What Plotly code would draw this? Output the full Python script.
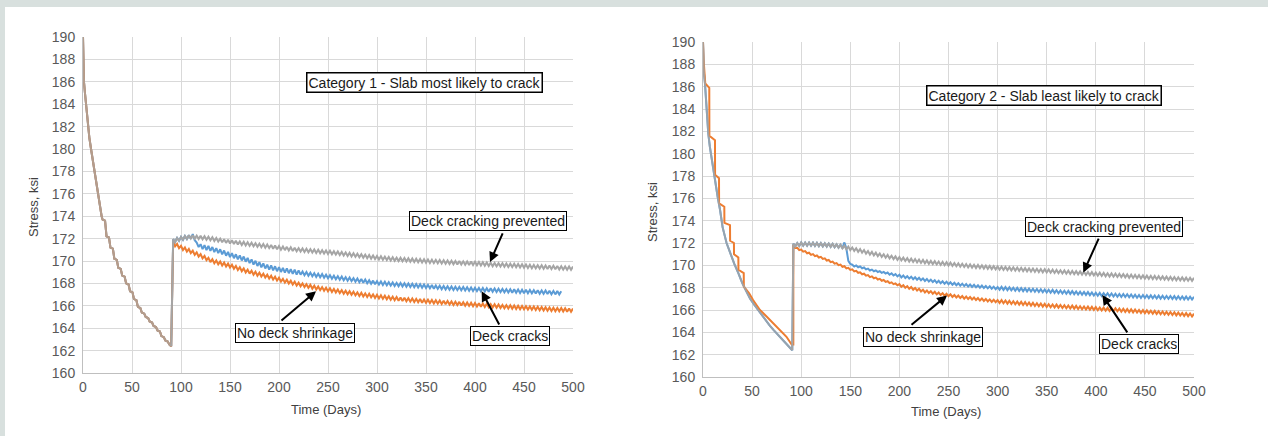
import plotly.graph_objects as go

# ---------------- DATA ----------------
# Category 1 - early phase (all three series overlap), days / ksi
C1_EARLY_T = [0, 0.3, 1, 2, 3.1, 4, 5.1, 6.5, 8.2, 10, 11.6, 13.5, 15, 17, 19,
              20, 22.5, 24, 26.5, 28, 30.5, 32, 34.5, 36, 38.5, 40, 42.5, 44, 46.5,
              48, 50.5, 52, 54.5, 56, 58.5, 60, 62.5, 64, 66.5, 68, 70.5, 72, 74.5,
              76, 78.5, 80, 82.5, 84, 86.5, 88, 90]
C1_EARLY_S = [190, 188, 186, 185, 184, 183, 182, 181, 180, 179, 178, 177, 176, 175, 174,
              173.7, 173.6, 172.2, 172.1, 171.2, 171.1, 170.2, 170.1, 169.4, 169.3, 168.7, 168.6,
              168.0, 167.9, 167.3, 167.2, 166.6, 166.5, 165.9, 165.8, 165.4, 165.3, 165.0, 164.9,
              164.6, 164.5, 164.2, 164.1, 163.8, 163.7, 163.3, 163.2, 162.9, 162.8, 162.55, 162.4]

DAYS = list(range(92, 501, 2))
C1_BLUE_DAYS = list(range(92, 489, 2))

C1_GRAY = [
    171.95, 171.70, 172.05, 171.80, 172.15, 171.89, 172.23, 171.96, 172.30, 172.00,
    172.30, 171.99, 172.27, 171.96, 172.25, 171.93, 172.21, 171.89, 172.17, 171.85,
    172.12, 171.79, 172.06, 171.73, 172.00, 171.67, 171.95, 171.62, 171.90, 171.57,
    171.85, 171.52, 171.80, 171.47, 171.75, 171.43, 171.71, 171.39, 171.67, 171.35,
    171.63, 171.31, 171.59, 171.27, 171.55, 171.23, 171.51, 171.19, 171.47, 171.15,
    171.43, 171.10, 171.38, 171.05, 171.33, 171.01, 171.29, 170.97, 171.26, 170.94,
    171.22, 170.90, 171.19, 170.87, 171.15, 170.84, 171.12, 170.81, 171.09, 170.78,
    171.06, 170.75, 171.03, 170.72, 171.00, 170.69, 170.97, 170.66, 170.94, 170.63,
    170.91, 170.60, 170.88, 170.57, 170.85, 170.53, 170.81, 170.49, 170.77, 170.45,
    170.73, 170.41, 170.69, 170.37, 170.65, 170.33, 170.61, 170.29, 170.57, 170.25,
    170.53, 170.21, 170.49, 170.17, 170.45, 170.14, 170.42, 170.11, 170.39, 170.08,
    170.36, 170.05, 170.33, 170.02, 170.30, 169.99, 170.28, 169.97, 170.26, 169.95,
    170.24, 169.93, 170.22, 169.91, 170.20, 169.89, 170.18, 169.87, 170.16, 169.85,
    170.14, 169.83, 170.12, 169.81, 170.10, 169.79, 170.08, 169.77, 170.06, 169.75,
    170.04, 169.73, 170.02, 169.71, 170.00, 169.69, 169.99, 169.68, 169.97, 169.67,
    169.96, 169.65, 169.95, 169.64, 169.93, 169.62, 169.91, 169.60, 169.89, 169.58,
    169.87, 169.56, 169.85, 169.54, 169.83, 169.52, 169.81, 169.51, 169.80, 169.49,
    169.78, 169.47, 169.76, 169.46, 169.75, 169.44, 169.73, 169.42, 169.71, 169.40,
    169.69, 169.38, 169.67, 169.36, 169.65, 169.34, 169.63, 169.33, 169.62, 169.31,
    169.60, 169.29, 169.59, 169.28, 169.57, 169.26, 169.56, 169.25, 169.54, 169.23,
    169.52, 169.22, 169.51, 169.21, 169.50]

C1_ORANGE = [
    171.70, 171.31, 171.52, 171.14, 171.35, 170.98, 171.21, 170.84, 171.07, 170.70,
    170.92, 170.55, 170.77, 170.40, 170.62, 170.24, 170.45, 170.07, 170.28, 169.90,
    170.15, 169.80, 170.05, 169.70, 169.95, 169.60, 169.86, 169.51, 169.77, 169.42,
    169.67, 169.31, 169.56, 169.20, 169.45, 169.09, 169.34, 168.98, 169.23, 168.87,
    169.13, 168.78, 169.04, 168.69, 168.95, 168.61, 168.86, 168.52, 168.77, 168.43,
    168.68, 168.34, 168.59, 168.25, 168.50, 168.16, 168.41, 168.07, 168.33, 167.99,
    168.24, 167.90, 168.16, 167.81, 168.07, 167.74, 168.00, 167.67, 167.93, 167.60,
    167.87, 167.53, 167.80, 167.46, 167.73, 167.40, 167.67, 167.35, 167.62, 167.29,
    167.56, 167.23, 167.51, 167.18, 167.45, 167.13, 167.40, 167.08, 167.35, 167.03,
    167.30, 166.98, 167.25, 166.93, 167.20, 166.88, 167.16, 166.83, 167.11, 166.79,
    167.07, 166.75, 167.02, 166.70, 166.98, 166.66, 166.94, 166.62, 166.90, 166.58,
    166.86, 166.54, 166.82, 166.50, 166.78, 166.46, 166.75, 166.43, 166.72, 166.40,
    166.68, 166.37, 166.65, 166.34, 166.62, 166.31, 166.60, 166.28, 166.57, 166.26,
    166.55, 166.24, 166.52, 166.21, 166.50, 166.19, 166.47, 166.16, 166.45, 166.13,
    166.42, 166.11, 166.39, 166.08, 166.37, 166.06, 166.35, 166.03, 166.32, 166.01,
    166.30, 165.99, 166.27, 165.96, 166.25, 165.94, 166.23, 165.91, 166.20, 165.89,
    166.18, 165.87, 166.15, 165.84, 166.13, 165.82, 166.11, 165.80, 166.08, 165.77,
    166.06, 165.75, 166.04, 165.73, 166.02, 165.71, 166.00, 165.69, 165.98, 165.68,
    165.97, 165.66, 165.95, 165.64, 165.93, 165.62, 165.91, 165.60, 165.89, 165.58,
    165.87, 165.56, 165.85, 165.54, 165.83, 165.52, 165.81, 165.51, 165.80, 165.49,
    165.78, 165.47, 165.77, 165.46, 165.75]

C1_BLUE = [
    171.95, 171.70, 172.05, 171.80, 172.15, 171.89, 172.23, 171.96, 172.30, 172.00,
    172.40, 171.85, 171.65, 171.25, 171.50, 171.06, 171.42, 170.98, 171.34, 170.90,
    171.25, 170.80, 171.15, 170.70, 171.05, 170.59, 170.93, 170.47, 170.81, 170.35,
    170.70, 170.25, 170.60, 170.15, 170.50, 170.05, 170.40, 169.94, 170.27, 169.81,
    170.14, 169.68, 170.02, 169.56, 169.90, 169.44, 169.78, 169.33, 169.68, 169.24,
    169.60, 169.16, 169.53, 169.09, 169.45, 169.02, 169.39, 168.96, 169.34, 168.91,
    169.28, 168.85, 169.22, 168.79, 169.16, 168.78, 169.06, 168.73, 169.01, 168.68,
    168.96, 168.63, 168.91, 168.58, 168.86, 168.55, 168.83, 168.51, 168.78, 168.46,
    168.74, 168.42, 168.69, 168.37, 168.65, 168.33, 168.61, 168.28, 168.56, 168.24,
    168.52, 168.20, 168.47, 168.15, 168.43, 168.11, 168.39, 168.06, 168.34, 168.02,
    168.29, 167.97, 168.25, 167.92, 168.20, 167.89, 168.17, 167.86, 168.14, 167.83,
    168.11, 167.80, 168.08, 167.77, 168.05, 167.74, 168.03, 167.72, 168.01, 167.70,
    167.99, 167.68, 167.97, 167.66, 167.95, 167.64, 167.92, 167.61, 167.90, 167.59,
    167.87, 167.56, 167.85, 167.53, 167.82, 167.51, 167.79, 167.48, 167.77, 167.46,
    167.75, 167.44, 167.73, 167.42, 167.71, 167.40, 167.69, 167.38, 167.67, 167.36,
    167.65, 167.35, 167.64, 167.33, 167.62, 167.31, 167.60, 167.30, 167.59, 167.28,
    167.57, 167.26, 167.56, 167.25, 167.54, 167.23, 167.52, 167.22, 167.51, 167.20,
    167.49, 167.19, 167.48, 167.17, 167.47, 167.16, 167.45, 167.15, 167.44, 167.13,
    167.43, 167.12, 167.41, 167.11, 167.40, 167.09, 167.39, 167.08, 167.37, 167.07,
    167.36, 167.05, 167.35, 167.04, 167.33, 167.02, 167.32, 167.01, 167.30]

# Category 2 - early phase
C2_EARLY_T = [0, 0.5, 1, 2, 3, 4, 5.4, 7, 8.5, 10.5, 13, 15, 17.3, 20, 24, 28, 32, 36,
              40, 44, 48, 52, 56, 60, 64, 68, 72, 76, 80, 84, 88, 90.9]
C2_EARLY_S = [190, 188.3, 187.2, 186.3, 184.6, 183.2, 181.8, 180.6, 179.7, 178.8, 177.2,
              176.1, 175.0, 173.4, 172.0, 171.0, 170.1, 169.3, 168.4, 167.7, 167.0, 166.5,
              166.0, 165.5, 165.1, 164.6, 164.2, 163.8, 163.4, 163.1, 162.7, 162.4]
C2_ORANGE_EARLY_T = [0, 0.6, 2.3, 6.4, 6.5, 12.2, 12.3, 16.3, 16.4, 21.7, 21.8, 27.5, 27.6,
                     31.5, 31.6, 36, 36.1, 41.5, 41.6, 47, 51, 58, 65, 75, 85, 90.3, 92]
C2_ORANGE_EARLY_S = [190, 188.4, 186.3, 185.9, 181.6, 181.2, 178.1, 177.8, 175.55, 175.25,
                     173.8, 173.6, 172.2, 172.0, 171.0, 170.7, 169.6, 169.3, 168.1, 167.5,
                     166.9, 166.0, 165.4, 164.5, 163.6, 162.9, 162.9]

C2_GRAY = [
    171.94, 171.69, 171.99, 171.74, 172.04, 171.76, 172.04, 171.76, 172.04, 171.76,
    172.03, 171.74, 172.01, 171.72, 171.99, 171.70, 171.97, 171.68, 171.95, 171.66,
    171.92, 171.62, 171.88, 171.58, 171.84, 171.52, 171.76, 171.44, 171.68, 171.36,
    171.60, 171.29, 171.53, 171.21, 171.45, 171.13, 171.37, 171.05, 171.28, 170.96,
    171.20, 170.89, 171.13, 170.82, 171.06, 170.75, 170.99, 170.68, 170.93, 170.62,
    170.86, 170.55, 170.80, 170.49, 170.74, 170.44, 170.69, 170.39, 170.64, 170.34,
    170.60, 170.30, 170.56, 170.26, 170.52, 170.22, 170.48, 170.18, 170.44, 170.14,
    170.40, 170.11, 170.37, 170.08, 170.34, 170.04, 170.31, 170.01, 170.28, 169.98,
    170.25, 169.95, 170.21, 169.92, 170.18, 169.88, 170.14, 169.85, 170.11, 169.81,
    170.08, 169.79, 170.05, 169.76, 170.03, 169.74, 170.00, 169.71, 169.98, 169.69,
    169.95, 169.66, 169.93, 169.64, 169.90, 169.61, 169.88, 169.59, 169.86, 169.57,
    169.84, 169.55, 169.82, 169.53, 169.80, 169.51, 169.78, 169.49, 169.75, 169.46,
    169.73, 169.44, 169.71, 169.42, 169.69, 169.40, 169.67, 169.38, 169.65, 169.36,
    169.63, 169.34, 169.61, 169.32, 169.59, 169.30, 169.56, 169.27, 169.54, 169.25,
    169.52, 169.23, 169.50, 169.21, 169.48, 169.19, 169.46, 169.17, 169.43, 169.14,
    169.41, 169.12, 169.39, 169.10, 169.36, 169.07, 169.34, 169.05, 169.32, 169.02,
    169.29, 169.00, 169.27, 168.98, 169.25, 168.96, 169.23, 168.94, 169.21, 168.92,
    169.19, 168.89, 169.16, 168.87, 169.14, 168.85, 169.12, 168.83, 169.10, 168.81,
    169.08, 168.79, 169.06, 168.77, 169.05, 168.76, 169.03, 168.74, 169.01, 168.72,
    168.99, 168.70, 168.97, 168.68, 168.95, 168.66, 168.93, 168.65, 168.92, 168.63,
    168.90, 168.62, 168.89, 168.61, 168.88]

C2_BLUE = [
    171.94, 171.69, 171.99, 171.74, 172.04, 171.76, 172.04, 171.76, 172.04, 171.76,
    172.03, 171.74, 172.01, 171.72, 171.99, 171.70, 171.97, 171.68, 171.95, 171.66,
    171.92, 171.62, 171.88, 171.58, 171.84, 171.52, 172.05, 171.50, 170.40, 170.12,
    170.06, 169.90, 169.99, 169.83, 169.91, 169.74, 169.81, 169.64, 169.71, 169.54,
    169.62, 169.47, 169.55, 169.40, 169.48, 169.33, 169.41, 169.26, 169.36, 169.16,
    169.29, 169.09, 169.21, 169.01, 169.16, 168.92, 169.09, 168.86, 169.03, 168.81,
    168.98, 168.76, 168.93, 168.71, 168.88, 168.66, 168.83, 168.60, 168.78, 168.55,
    168.72, 168.50, 168.67, 168.44, 168.61, 168.39, 168.57, 168.35, 168.53, 168.31,
    168.48, 168.26, 168.44, 168.22, 168.40, 168.18, 168.36, 168.14, 168.32, 168.10,
    168.28, 168.07, 168.25, 168.03, 168.22, 168.00, 168.19, 167.97, 168.15, 167.94,
    168.12, 167.91, 168.09, 167.87, 168.06, 167.82, 168.07, 167.80, 168.05, 167.78,
    168.03, 167.76, 168.00, 167.73, 167.98, 167.71, 167.96, 167.69, 167.94, 167.67,
    167.92, 167.65, 167.90, 167.63, 167.88, 167.61, 167.86, 167.59, 167.84, 167.57,
    167.82, 167.55, 167.80, 167.53, 167.77, 167.50, 167.75, 167.48, 167.73, 167.46,
    167.71, 167.44, 167.69, 167.42, 167.66, 167.39, 167.64, 167.37, 167.62, 167.35,
    167.60, 167.33, 167.57, 167.30, 167.55, 167.28, 167.53, 167.26, 167.51, 167.25,
    167.50, 167.23, 167.48, 167.21, 167.46, 167.19, 167.44, 167.17, 167.43, 167.16,
    167.41, 167.14, 167.39, 167.12, 167.37, 167.10, 167.35, 167.08, 167.34, 167.07,
    167.32, 167.06, 167.31, 167.05, 167.30, 167.03, 167.29, 167.02, 167.28, 167.01,
    167.26, 167.00, 167.25, 166.99, 167.24, 166.97, 167.23, 166.96, 167.21, 166.95,
    167.20, 166.94, 167.19, 166.93, 167.18]

C2_ORANGE = [
    171.81, 171.56, 171.57, 171.37, 171.41, 171.22, 171.27, 171.08, 171.13, 170.94,
    171.00, 170.82, 170.88, 170.70, 170.76, 170.57, 170.62, 170.43, 170.48, 170.29,
    170.34, 170.15, 170.20, 170.01, 170.06, 169.87, 169.92, 169.73, 169.78, 169.59,
    169.64, 169.46, 169.51, 169.33, 169.38, 169.20, 169.25, 169.07, 169.12, 168.94,
    169.01, 168.84, 168.90, 168.73, 168.79, 168.62, 168.69, 168.52, 168.58, 168.41,
    168.48, 168.31, 168.38, 168.21, 168.32, 168.08, 168.23, 167.99, 168.14, 167.90,
    168.06, 167.82, 167.98, 167.74, 167.90, 167.66, 167.82, 167.58, 167.75, 167.52,
    167.69, 167.46, 167.63, 167.40, 167.57, 167.34, 167.51, 167.28, 167.46, 167.23,
    167.40, 167.17, 167.34, 167.12, 167.29, 167.07, 167.25, 167.02, 167.20, 166.98,
    167.16, 166.94, 167.11, 166.89, 167.07, 166.85, 167.03, 166.81, 166.99, 166.77,
    166.95, 166.73, 166.92, 166.70, 166.88, 166.63, 166.88, 166.60, 166.85, 166.57,
    166.82, 166.54, 166.79, 166.51, 166.76, 166.48, 166.73, 166.45, 166.70, 166.42,
    166.67, 166.39, 166.64, 166.36, 166.61, 166.33, 166.58, 166.30, 166.55, 166.27,
    166.52, 166.25, 166.50, 166.23, 166.48, 166.21, 166.45, 166.18, 166.43, 166.16,
    166.41, 166.14, 166.39, 166.12, 166.37, 166.09, 166.34, 166.07, 166.32, 166.05,
    166.30, 166.03, 166.28, 166.01, 166.26, 165.98, 166.23, 165.96, 166.21, 165.94,
    166.19, 165.92, 166.17, 165.90, 166.15, 165.88, 166.13, 165.85, 166.10, 165.83,
    166.08, 165.81, 166.06, 165.79, 166.04, 165.77, 166.01, 165.74, 165.99, 165.72,
    165.97, 165.70, 165.94, 165.67, 165.92, 165.65, 165.89, 165.62, 165.87, 165.60,
    165.84, 165.57, 165.82, 165.55, 165.80, 165.52, 165.77, 165.50, 165.74, 165.47,
    165.72, 165.45, 165.69, 165.42, 165.67]

for name, arr, n in [("C1_GRAY", C1_GRAY, len(DAYS)), ("C1_ORANGE", C1_ORANGE, len(DAYS)),
                     ("C1_BLUE", C1_BLUE, len(C1_BLUE_DAYS)), ("C2_GRAY", C2_GRAY, len(DAYS)),
                     ("C2_BLUE", C2_BLUE, len(DAYS)), ("C2_ORANGE", C2_ORANGE, len(DAYS)),
                     ("C1_EARLY", C1_EARLY_S, len(C1_EARLY_T)), ("C2_EARLY", C2_EARLY_S, len(C2_EARLY_T)),
                     ("C2_OE", C2_ORANGE_EARLY_S, len(C2_ORANGE_EARLY_T))]:
    assert len(arr) == n, (name, len(arr), n)

X_TICKS = list(range(0, 501, 50))
Y_TICKS = list(range(160, 191, 2))

BLUE = "#5B9BD5"
ORANGE = "#ED7D31"
GRAY = "#A5A5A5"
BAND = "#d8e0de"
FONT = "Liberation Sans, Arial, sans-serif"
W, H = 1268, 436

# ---------------- FIGURE ----------------
fig = go.Figure()

def add_line(x, y, color, xa, ya, opacity=1.0):
    fig.add_trace(go.Scatter(x=x, y=y, mode="lines", xaxis=xa, yaxis=ya, opacity=opacity,
                             line=dict(color=color, width=2), hoverinfo="skip",
                             showlegend=False))

# Category 1 (gray drawn last; its overlapping early part is slightly see-through)
add_line(C1_EARLY_T + C1_BLUE_DAYS, C1_EARLY_S + C1_BLUE, BLUE, "x", "y")
add_line(C1_EARLY_T + DAYS, C1_EARLY_S + C1_ORANGE, ORANGE, "x", "y")
add_line(C1_EARLY_T, C1_EARLY_S, GRAY, "x", "y", opacity=0.8)
add_line(C1_EARLY_T[-1:] + DAYS, C1_EARLY_S[-1:] + C1_GRAY, GRAY, "x", "y")
# Category 2
add_line(C2_EARLY_T + DAYS, C2_EARLY_S + C2_BLUE, BLUE, "x2", "y2")
add_line(C2_ORANGE_EARLY_T + DAYS, C2_ORANGE_EARLY_S + C2_ORANGE, ORANGE, "x2", "y2")
add_line(C2_EARLY_T, C2_EARLY_S, GRAY, "x2", "y2", opacity=0.8)
add_line(C2_EARLY_T[-1:] + DAYS, C2_EARLY_S[-1:] + C2_GRAY, GRAY, "x2", "y2")

tickfont = dict(family=FONT, size=14, color="#595959")
def xaxis(domain, anchor):
    return dict(domain=domain, anchor=anchor, range=[0, 500], tickvals=X_TICKS,
                showgrid=True, gridcolor="#d9d9d9", gridwidth=1, showline=True,
                linecolor="#bfbfbf", linewidth=1, ticks="", zeroline=False,
                tickfont=tickfont, ticklabelstandoff=1, automargin=False)
def yaxis(domain, anchor):
    return dict(domain=domain, anchor=anchor, range=[160, 190], tickvals=Y_TICKS,
                showgrid=True, gridcolor="#d9d9d9", gridwidth=1, showline=True,
                linecolor="#bfbfbf", linewidth=1, ticks="", zeroline=False,
                tickfont=tickfont, ticklabelstandoff=4, automargin=False)

fig.update_layout(
    width=W, height=H,
    margin=dict(l=0, r=0, t=0, b=0, pad=0, autoexpand=False),
    paper_bgcolor="white", plot_bgcolor="white",
    xaxis=xaxis([83 / W, 573 / W], "y"),
    yaxis=yaxis([1 - 373 / H, 1 - 37 / H], "x"),
    xaxis2=xaxis([703 / W, 1194 / W], "y2"),
    yaxis2=yaxis([1 - 377 / H, 1 - 42 / H], "x2"),
    shapes=[
        dict(type="rect", xref="paper", yref="paper", x0=-0.01, x1=1.01, y0=1 - 7 / H,
             y1=1.02, fillcolor=BAND, line=dict(width=0), layer="below"),
        dict(type="rect", xref="paper", yref="paper", x0=-0.01, x1=5 / W, y0=-0.02,
             y1=1.02, fillcolor=BAND, line=dict(width=0), layer="below"),
    ],
)

ann = []
# axis titles
for (x, y, txt, ang) in [(33, 207, "Stress, ksi", -90), (326, 409, "Time (Days)", 0),
                         (652, 212, "Stress, ksi", -90), (946, 411, "Time (Days)", 0)]:
    ann.append(dict(x=x / W, y=1 - y / H, xref="paper", yref="paper", text=txt,
                    xanchor="center", yanchor="middle",
                    showarrow=False, textangle=ang,
                    font=dict(family=FONT, size=13, color="#404040")))

# boxes: (xref, yref, x, y, text, size, borderwidth)
boxes = [
    ("x", "y", 348.7, 185.98, "Category 1 - Slab most likely to crack", 14, 1.5),
    ("x", "y", 413, 173.55, "Deck cracking prevented", 14, 1),
    ("x", "y", 435.7, 163.28, "Deck cracks", 14, 1),
    ("x", "y", 216.3, 163.57, "No deck shrinkage", 14, 1),
    ("x2", "y2", 347, 185.19, "Category 2 - Slab least likely to crack", 14, 1.5),
    ("x2", "y2", 408.1, 173.46, "Deck cracking prevented", 14, 1),
    ("x2", "y2", 443.5, 162.92, "Deck cracks", 14, 1),
    ("x2", "y2", 223.7, 163.59, "No deck shrinkage", 14, 1),
]
for xr, yr, x, y, txt, sz, bw in boxes:
    ann.append(dict(x=x, y=y, xref=xr, yref=yr, text=txt, showarrow=False,
                    xanchor="center", yanchor="middle",
                    bgcolor="white", bordercolor="black", borderwidth=bw, borderpad=1,
                    font=dict(family=FONT, size=sz, color="#1a1a1a")))

# arrows: (xref, yref, start_x, start_y, tip_x, tip_y)
arrows = [
    ("x", "y", 428.9, 172.6, 415.3, 169.9),
    ("x", "y", 425.5, 164.2, 406.8, 167.3),
    ("x", "y", 201.0, 164.58, 237.8, 167.3),
    ("x2", "y2", 403.6, 172.52, 387.3, 169.35),
    ("x2", "y2", 433.1, 163.86, 406.6, 167.35),
    ("x2", "y2", 210.8, 164.57, 248.5, 167.3),
]
for xr, yr, sx, sy, tx, ty in arrows:
    ann.append(dict(x=tx, y=ty, xref=xr, yref=yr, ax=sx, ay=sy, axref=xr, ayref=yr,
                    text="", showarrow=True, arrowhead=2, arrowsize=1, arrowwidth=2,
                    arrowcolor="black", standoff=0, startstandoff=0))

fig.update_layout(annotations=ann)
fig.write_html("out.html")
